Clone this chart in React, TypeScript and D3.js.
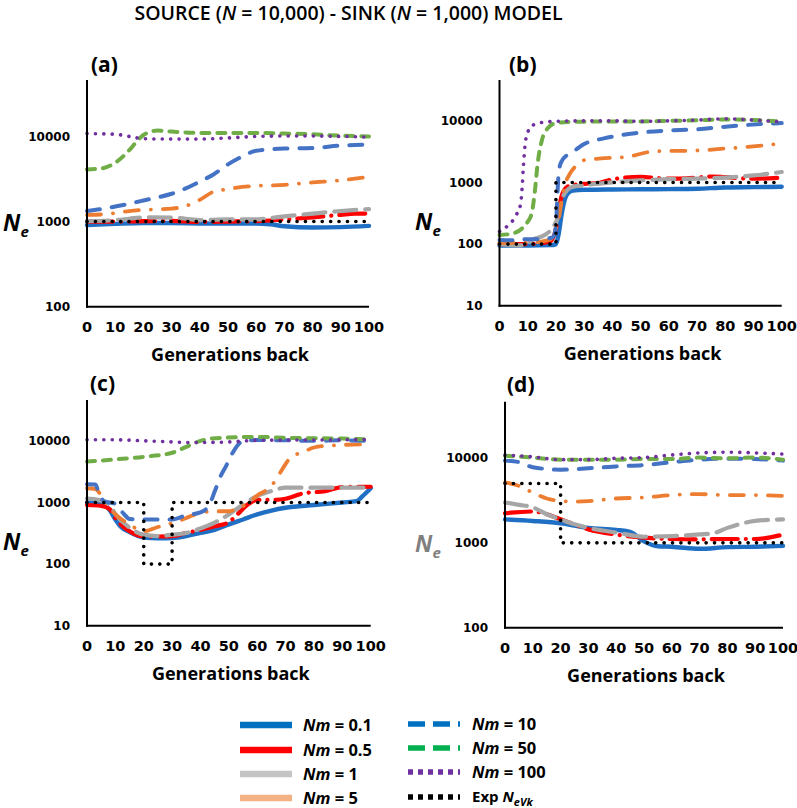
import React from "react";
import * as d3 from "d3";

type Pt = [number, number];

// ---------- text ----------
const chartTitle = ["SOURCE (", "N", " = 10,000) - SINK (", "N", " = 1,000) MODEL"];
const xAxisTitle = "Generations back";
const panelLetters = ["(a)", "(b)", "(c)", "(d)"];
const genTicks = [0, 10, 20, 30, 40, 50, 60, 70, 80, 90, 100];
const yTicksFrom100 = [100, 1000, 10000];
const yTicksFrom10 = [10, 100, 1000, 10000];
const legendValues = ["0.1", "0.5", "1", "5", "10", "50", "100"];

// ---------- panel (a) ----------
const a_nm01: Pt[] = [[0, 910], [10, 940], [20, 960], [30, 960], [40, 950], [50, 945], [60, 950], [65, 930], [70, 880], [80, 850], [90, 860], [100, 890]];
const a_nm05: Pt[] = [[0, 1000], [10, 1000], [20, 1010], [30, 1020], [40, 990], [50, 1000], [60, 1010], [70, 1060], [80, 1120], [90, 1200], [95, 1240], [100, 1240]];
const a_nm1: Pt[] = [[0, 1010], [10, 1040], [15, 1080], [20, 1120], [30, 1110], [35, 1080], [40, 1040], [50, 1060], [60, 1060], [65, 1100], [70, 1150], [80, 1240], [90, 1330], [100, 1400]];
const a_nm5: Pt[] = [[0, 1200], [5, 1210], [10, 1260], [15, 1330], [20, 1370], [30, 1420], [35, 1520], [40, 1800], [45, 2250], [50, 2400], [55, 2550], [60, 2620], [70, 2700], [80, 2880], [90, 3050], [100, 3350]];
const a_nm10: Pt[] = [[0, 1330], [5, 1400], [10, 1500], [15, 1620], [20, 1770], [25, 1920], [30, 2120], [35, 2450], [40, 2950], [45, 3600], [50, 4700], [55, 5800], [60, 6800], [70, 7200], [80, 7300], [90, 7800], [100, 8000]];
const a_nm50: Pt[] = [[0, 4100], [5, 4200], [10, 4900], [15, 6900], [18, 9000], [20, 10400], [25, 11700], [30, 11400], [40, 11000], [50, 11000], [60, 11000], [70, 10800], [80, 10600], [90, 10200], [100, 10000]];
const a_nm100: Pt[] = [[0, 10800], [10, 10600], [15, 10000], [20, 9400], [30, 9300], [40, 9300], [50, 9600], [60, 10000], [70, 10100], [80, 10100], [90, 10000], [100, 9800]];
const a_exp: Pt[] = [[0, 1000], [100, 1000]];

// ---------- panel (b) ----------
const b_nm01: Pt[] = [[0, 95], [10, 95], [18, 96], [20, 100], [21, 150], [22, 300], [23, 500], [24, 650], [26, 740], [30, 760], [40, 770], [50, 775], [60, 780], [70, 790], [80, 830], [90, 840], [100, 850]];
const b_nm05: Pt[] = [[0, 100], [10, 100], [18, 110], [20, 180], [21, 350], [22, 600], [24, 850], [27, 920], [30, 950], [35, 980], [40, 1120], [50, 1230], [60, 1150], [70, 1200], [75, 1250], [80, 1220], [90, 1150], [100, 1200]];
const b_nm1: Pt[] = [[0, 100], [8, 95], [12, 120], [16, 140], [19, 190], [21, 300], [22, 500], [24, 750], [26, 850], [30, 900], [40, 1000], [50, 1080], [60, 1130], [70, 1150], [80, 1200], [90, 1300], [100, 1480]];
const b_nm5: Pt[] = [[0, 105], [10, 105], [17, 115], [19, 130], [20, 180], [21, 260], [22, 500], [23, 850], [25, 1400], [28, 2000], [30, 2300], [36, 2450], [45, 2600], [55, 3200], [70, 3300], [80, 3550], [90, 3850], [100, 4300]];
const b_nm10: Pt[] = [[0, 117], [5, 115], [10, 120], [15, 120], [19, 130], [20, 200], [20.5, 600], [21, 1500], [22, 2200], [24, 2800], [27, 3400], [30, 4200], [37, 5200], [48, 6300], [58, 6900], [70, 7300], [81, 8100], [93, 8900], [100, 9200]];
const b_nm50: Pt[] = [[0, 140], [5, 150], [8, 180], [10, 230], [11.5, 330], [12.5, 700], [13.5, 2000], [15, 4800], [17, 7500], [20, 9200], [25, 9600], [30, 9700], [40, 9800], [50, 9800], [60, 10000], [70, 10200], [80, 10500], [90, 10300], [100, 9700]];
const b_nm100: Pt[] = [[0, 160], [3, 200], [6, 300], [7.5, 450], [8, 800], [8.5, 1900], [9, 3800], [10, 6500], [12, 8600], [15, 9400], [20, 9800], [30, 10000], [40, 10000], [50, 9800], [60, 10000], [70, 10300], [80, 10800], [90, 10300], [100, 9600]];
const b_exp: Pt[] = [[0, 100], [20, 100], [20, 1000], [100, 1000]];

// ---------- panel (c) ----------
const c_nm01: Pt[] = [[0, 1000], [5, 960], [8, 750], [10, 530], [12, 400], [15, 330], [20, 270], [25, 262], [30, 265], [35, 285], [40, 320], [45, 360], [50, 440], [55, 530], [60, 640], [65, 740], [70, 820], [80, 910], [90, 1000], [95, 1050], [97, 1250], [100, 1700]];
const c_nm05: Pt[] = [[0, 910], [5, 880], [8, 780], [10, 560], [15, 340], [20, 280], [25, 280], [30, 285], [35, 320], [40, 360], [45, 410], [50, 480], [53, 640], [57, 950], [60, 1100], [65, 1100], [70, 1150], [76, 1400], [84, 1530], [90, 1780], [100, 1800]];
const c_nm1: Pt[] = [[0, 1160], [4, 1100], [8, 900], [10, 650], [15, 390], [20, 300], [25, 285], [30, 300], [35, 320], [40, 380], [45, 470], [50, 640], [55, 930], [60, 1270], [65, 1530], [70, 1740], [80, 1740], [90, 1740], [100, 1740]];
const c_nm5: Pt[] = [[0, 1700], [3, 1650], [5, 1300], [8, 800], [10, 640], [15, 440], [20, 340], [25, 400], [30, 460], [35, 560], [40, 680], [45, 720], [50, 720], [52, 760], [57, 1000], [60, 1300], [65, 1850], [68, 3000], [72, 5500], [76, 6500], [80, 7800], [86, 8400], [90, 8600], [100, 8800]];
const c_nm10: Pt[] = [[0, 1970], [3, 1950], [4, 1500], [6, 1050], [10, 950], [13, 650], [15, 540], [20, 530], [30, 530], [35, 620], [40, 690], [43, 900], [45, 1500], [47, 2600], [49, 3900], [51, 6000], [54, 9400], [56, 10200], [60, 10300], [70, 10200], [80, 10000], [90, 10200], [100, 10000]];
const c_nm50: Pt[] = [[0, 4600], [10, 5000], [20, 5500], [30, 6400], [35, 8000], [40, 10000], [45, 11000], [50, 11300], [60, 11600], [70, 11200], [80, 11000], [90, 10900], [100, 10500]];
const c_nm100: Pt[] = [[0, 10400], [10, 10400], [20, 10000], [30, 9600], [35, 9400], [40, 9400], [50, 9600], [60, 10200], [70, 10300], [80, 10300], [90, 10400], [100, 10500]];
const c_exp: Pt[] = [[0, 1000], [20, 1000], [20, 100], [30, 100], [30, 1000], [100, 1000]];

// ---------- panel (d) ----------
const d_nm01: Pt[] = [[0, 1890], [10, 1810], [20, 1700], [30, 1500], [40, 1420], [45, 1350], [50, 1040], [55, 910], [60, 900], [70, 850], [80, 890], [90, 900], [100, 920]];
const d_nm05: Pt[] = [[0, 2230], [10, 2340], [12, 2300], [20, 1900], [30, 1440], [40, 1250], [50, 1150], [60, 1110], [70, 1100], [80, 1110], [90, 1110], [100, 1250]];
const d_nm1: Pt[] = [[0, 2990], [5, 2800], [10, 2620], [15, 2170], [20, 1890], [25, 1650], [30, 1500], [40, 1320], [50, 1180], [60, 1200], [70, 1260], [75, 1300], [80, 1500], [90, 1810], [100, 1890]];
const d_nm5: Pt[] = [[0, 5150], [5, 4700], [10, 3900], [15, 3330], [20, 3120], [25, 3060], [30, 3100], [40, 3330], [50, 3420], [60, 3650], [70, 3750], [80, 3650], [90, 3650], [100, 3560]];
const d_nm10: Pt[] = [[0, 9300], [5, 8950], [10, 7760], [20, 7270], [30, 7550], [40, 7950], [50, 8250], [60, 8900], [70, 9550], [80, 9800], [90, 9700], [100, 9300]];
const d_nm50: Pt[] = [[0, 10600], [10, 10100], [20, 9550], [30, 9550], [40, 9550], [50, 9700], [60, 9700], [70, 10100], [80, 9900], [90, 10100], [100, 9550]];
const d_nm100: Pt[] = [[0, 10850], [10, 10300], [20, 9550], [30, 9550], [40, 9900], [50, 10100], [60, 10850], [70, 11460], [80, 11700], [90, 11460], [100, 11100]];
const d_exp: Pt[] = [[0, 5000], [20, 5000], [20, 1000], [100, 1000]];

// ---------- styles ----------
type Style = { color: string; width: number; dash?: string; legendColor: string; legendDash?: string };
const seriesKeys = ["nm01", "nm05", "nm1", "nm5", "nm10", "nm50", "nm100", "exp"];
const styles: Record<string, Style> = {
  nm01: { color: "#1f70c4", width: 4.4, legendColor: "#0070C0" },
  nm05: { color: "#ff0000", width: 4.2, dash: "26 8 0.1 8", legendColor: "#ff0000" },
  nm1: { color: "#a6a6a6", width: 4.2, dash: "22 9", legendColor: "#c4c4c4" },
  nm5: { color: "#ed7d31", width: 3.8, dash: "14 12 0.1 12", legendColor: "#f4b183" },
  nm10: { color: "#4472c4", width: 4, dash: "13 12", legendColor: "#0070C0", legendDash: "17 8" },
  nm50: { color: "#70ad47", width: 4, dash: "8 8", legendColor: "#00b050", legendDash: "17 8" },
  nm100: { color: "#7030a0", width: 3.6, dash: "0.1 8.3", legendColor: "#7030a0", legendDash: "5 5" },
  exp: { color: "#000000", width: 3.6, dash: "0.1 8.3", legendColor: "#000000", legendDash: "5 5" },
};

const YMAX = 46000;

type Panel = {
  left: number; right: number; top: number; bottom: number; yMin: number; ticks: number[];
  letter: string; letterX: number; letterY: number; neX: number; neColor: string;
  series: Record<string, Pt[]>;
};

const panels: Panel[] = [
  { left: 87, right: 369, top: 80, bottom: 306.7, yMin: 100, ticks: yTicksFrom100, letter: panelLetters[0], letterX: 91, letterY: 64, neX: 3, neColor: "#000",
    series: { nm01: a_nm01, nm05: a_nm05, nm1: a_nm1, nm5: a_nm5, nm10: a_nm10, nm50: a_nm50, nm100: a_nm100, exp: a_exp } },
  { left: 499.5, right: 781.7, top: 80, bottom: 305.7, yMin: 10, ticks: yTicksFrom10, letter: panelLetters[1], letterX: 509, letterY: 64, neX: 415, neColor: "#000",
    series: { nm01: b_nm01, nm05: b_nm05, nm1: b_nm1, nm5: b_nm5, nm10: b_nm10, nm50: b_nm50, nm100: b_nm100, exp: b_exp } },
  { left: 87, right: 370.7, top: 400, bottom: 625.7, yMin: 10, ticks: yTicksFrom10, letter: panelLetters[2], letterX: 90, letterY: 383, neX: 3, neColor: "#000",
    series: { nm01: c_nm01, nm05: c_nm05, nm1: c_nm1, nm5: c_nm5, nm10: c_nm10, nm50: c_nm50, nm100: c_nm100, exp: c_exp } },
  { left: 505, right: 783, top: 401.7, bottom: 627.7, yMin: 100, ticks: yTicksFrom100, letter: panelLetters[3], letterX: 507, letterY: 384, neX: 415, neColor: "#7f7f7f",
    series: { nm01: d_nm01, nm05: d_nm05, nm1: d_nm1, nm5: d_nm5, nm10: d_nm10, nm50: d_nm50, nm100: d_nm100, exp: d_exp } },
];

const FONT = "'Open Sans', 'DejaVu Sans', sans-serif";
const TICKFONT = "'DejaVu Sans', sans-serif";

function PanelView({ p }: { p: Panel }) {
  const x = d3.scaleLinear().domain([0, 100]).range([p.left, p.right]);
  const y = d3.scaleLog().domain([p.yMin, YMAX]).range([p.bottom, p.top]);
  const neY = p.top + 0.63 * (p.bottom - p.top);
  return (
    <g>
      {seriesKeys.map((k) => {
        const s = styles[k];
        const gen = d3
          .line<Pt>()
          .x((d) => x(d[0]))
          .y((d) => y(d[1]))
          .curve(k === "exp" ? d3.curveLinear : d3.curveMonotoneX);
        return (
          <path key={k} d={gen(p.series[k]) || ""} fill="none" stroke={s.color} strokeWidth={s.width}
            strokeDasharray={s.dash} strokeLinecap="round" strokeLinejoin="round" />
        );
      })}
      <line x1={p.left} x2={p.left} y1={p.top} y2={p.bottom + 1} stroke="#000" strokeWidth={2} />
      <line x1={p.left - 1} x2={p.right} y1={p.bottom} y2={p.bottom} stroke="#000" strokeWidth={2} />
      {p.ticks.map((t) => (
        <text key={t} x={p.left - 17} y={y(t)} dy="0.36em" textAnchor="end" fontFamily={TICKFONT} fontWeight="bold" fontSize={12}>
          {t}
        </text>
      ))}
      {genTicks.map((g) => (
        <text key={g} x={x(g)} y={p.bottom + 20} dy="0.36em" textAnchor="middle" fontFamily={TICKFONT} fontWeight="bold" fontSize={14.5}>
          {g}
        </text>
      ))}
      <text x={(p.left + p.right) / 2 + 2} y={p.bottom + 48} dy="0.36em" textAnchor="middle" fontFamily={FONT} fontWeight="bold" fontSize={18}>
        {xAxisTitle}
      </text>
      <text x={p.letterX} y={p.letterY} dy="0.36em" fontFamily={FONT} fontWeight="bold" fontSize={21}>
        {p.letter}
      </text>
      <text x={p.neX} y={neY} dy="0.36em" fontFamily={FONT} fontWeight="bold" fontStyle="italic" fontSize={23} fill={p.neColor}>
        N<tspan fontSize={15} dy="6">e</tspan>
      </text>
    </g>
  );
}

const legendLeft = { x1: 240, x2: 292, tx: 303, rows: [725, 750, 774, 798] };
const legendRight = { x1: 408, x2: 460, tx: 472, rows: [724, 748, 772, 797] };

function Legend() {
  const items = seriesKeys.map((k, i) => {
    const col = i < 4 ? legendLeft : legendRight;
    const row = col.rows[i % 4];
    const s = styles[k];
    return (
      <g key={k}>
        <line x1={col.x1} x2={col.x2} y1={row} y2={row} stroke={s.legendColor} strokeWidth={i < 4 ? 6.5 : 5.5}
          strokeDasharray={s.legendDash} />
        {k === "exp" ? (
          <text x={col.tx} y={row} dy="0.36em" fontFamily={FONT} fontWeight="bold" fontSize={15}>
            Exp <tspan fontStyle="italic">N</tspan>
            <tspan fontStyle="italic" fontSize={11} dy="4">eVk</tspan>
          </text>
        ) : (
          <text x={col.tx} y={row} dy="0.36em" fontFamily={FONT} fontWeight="bold" fontSize={16.5}>
            <tspan fontStyle="italic">Nm</tspan> = {legendValues[i]}
          </text>
        )}
      </g>
    );
  });
  return <g>{items}</g>;
}

export default function App() {
  return (
    <svg width={797} height={808} style={{ position: "absolute", left: 0, top: 0, background: "#fff" }}>
      <rect x={0} y={0} width={797} height={808} fill="#fff" />
      <text x={348.5} y={13} dy="0.36em" textAnchor="middle" fontFamily={FONT} fontWeight={600} fontSize={19.5}>
        {chartTitle[0]}
        <tspan fontStyle="italic">{chartTitle[1]}</tspan>
        {chartTitle[2]}
        <tspan fontStyle="italic">{chartTitle[3]}</tspan>
        {chartTitle[4]}
      </text>
      {panels.map((p, i) => (
        <PanelView key={i} p={p} />
      ))}
      <Legend />
    </svg>
  );
}
